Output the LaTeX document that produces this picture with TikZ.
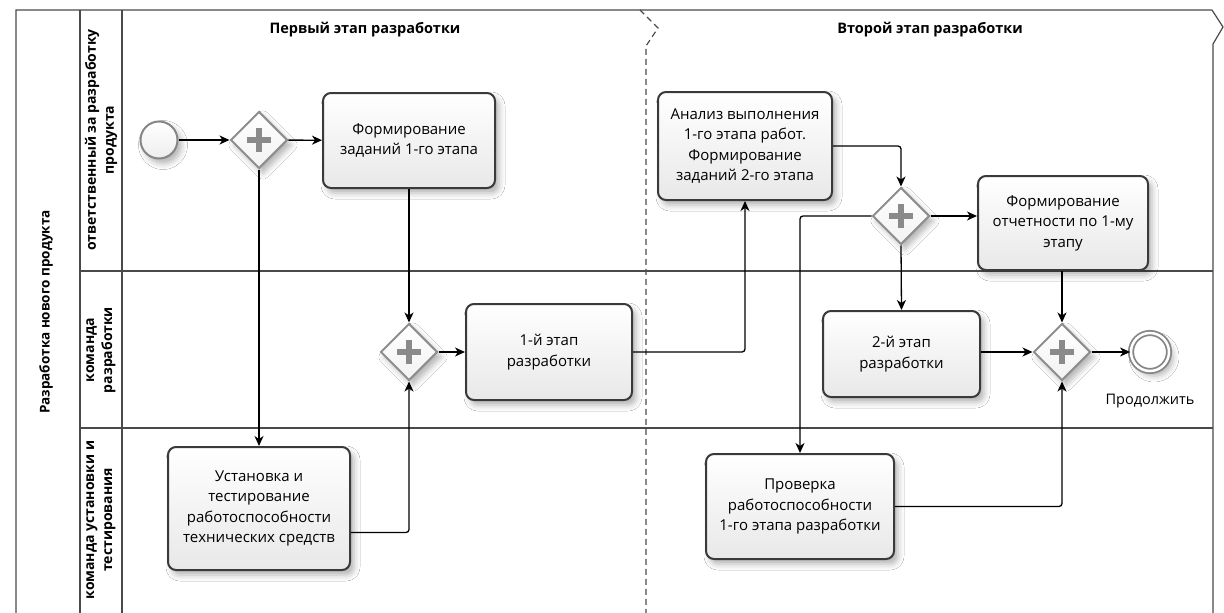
\documentclass[tikz,border=0pt]{standalone}
\usepackage{fontspec}
\setmainfont{Open Sans}
\usetikzlibrary{arrows.meta,shapes.geometric,shadows.blur}
\definecolor{frameline}{HTML}{4A4A4A}
\definecolor{taskline}{HTML}{3A3A3A}
\definecolor{gateline}{HTML}{8E8E8E}
\definecolor{plusgray}{HTML}{8A8A8A}
\definecolor{eventline}{HTML}{868686}
\begin{document}
\begin{tikzpicture}[x=1pt,y=-1pt,
  frame/.style={draw=frameline, line width=1.2pt},
  phaseline/.style={draw=frameline, line width=1.2pt, dash pattern=on 6pt off 4pt},
  softshadow/.style={blur shadow={shadow xshift=4pt, shadow yshift=-5pt,
      shadow blur radius=6pt, shadow opacity=30}},
  task/.style={rectangle, draw=taskline, line width=2pt, rounded corners=8pt,
      top color=white, bottom color=black!9, align=center, inner sep=0pt,
      font=\fontsize{15}{20.5}\selectfont, softshadow},
  plusline/.style={draw=plusgray, line width=6.5pt},
  gateway/.style={diamond, draw=gateline, line width=2pt, minimum width=57pt,
      minimum height=57pt, inner sep=0pt, top color=white, bottom color=black!5,
      softshadow,
      path picture={
        \draw[plusline] ([xshift=-12pt]path picture bounding box.center)
                     -- ([xshift=12pt]path picture bounding box.center);
        \draw[plusline] ([yshift=-12pt]path picture bounding box.center)
                     -- ([yshift=12pt]path picture bounding box.center);}},
  startev/.style={circle, draw=eventline, line width=2pt, minimum size=37pt,
      inner sep=0pt, top color=white, bottom color=black!7, softshadow},
  endev/.style={circle, draw=eventline, fill=white, line width=1.8pt, double=white,
      double distance=2.5pt, minimum size=38pt, inner sep=0pt, softshadow},
  flow/.style={draw=black, line width=1.3pt, rounded corners=3pt,
      -{Stealth[length=10pt,width=9pt,inset=3pt]}},
  lanelabel/.style={rotate=90, align=center, font=\bfseries\fontsize{14}{18}\selectfont},
  poollabel/.style={rotate=90, font=\bfseries\fontsize{13.5}{16}\selectfont},
  phasehead/.style={font=\bfseries\fontsize{14.5}{17}\selectfont},
  evlabel/.style={font=\fontsize{14.5}{17}\selectfont}
]
\useasboundingbox (0,0) rectangle (1224,613);
\fill[white] (0,0) rectangle (1224,613);

% pool, lanes and phase borders
\draw[frame] (16,613) -- (16,10) -- (1212,10) -- (1223,27) -- (1213,44) -- (1213,613);
\draw[frame] (80,10) -- (80,613);
\draw[frame] (122,10) -- (122,613);
\draw[frame] (80,271) -- (1213,271);
\draw[frame] (80,428) -- (1213,428);
\draw[phaseline] (640,10) -- (658,28) -- (646,46) -- (646,613);

% pool and lane titles
\node[poollabel] (pool) at (46,312) {Разработка нового продукта};
\node[lanelabel] (lane1) at (101,140) {ответственный за разработку\\продукта};
\node[lanelabel] (lane2) at (101,350) {команда\\разработки};
\node[lanelabel] (lane3) at (101,520) {команда установки и\\тестирования};

% phase titles
\node[phasehead] (ph1) at (365,30) {Первый этап разработки};
\node[phasehead] (ph2) at (930,30) {Второй этап разработки};

% events and gateways
\node[startev] (start) at (159,140) {};
\node[gateway] (g1) at (259,140) {};
\node[gateway] (g2) at (409,352) {};
\node[gateway] (g3) at (901,216) {};
\node[gateway] (g4) at (1062,352) {};
\node[endev] (stop) at (1150,352) {};
\node[evlabel] (stoplbl) at (1150,401) {Продолжить};

% tasks
\node[task, minimum width=172pt, minimum height=95pt] (t1) at (409,140.5)
  {Формирование\\заданий 1-го этапа};
\node[task, minimum width=166pt, minimum height=96pt] (t2) at (549,352)
  {1-й этап\\разработки};
\node[task, minimum width=182pt, minimum height=123pt] (t3) at (259,508.5)
  {Установка и\\тестирование\\работоспособности\\технических средств};
\node[task, minimum width=174pt, minimum height=108pt] (an) at (745,146)
  {Анализ выполнения\\1-го этапа работ.\\Формирование\\заданий 2-го этапа};
\node[task, minimum width=170pt, minimum height=94pt] (rep) at (1063,223)
  {Формирование\\отчетности по 1-му\\этапу};
\node[task, minimum width=157pt, minimum height=86pt] (t4) at (901.5,354)
  {2-й этап\\разработки};
\node[task, minimum width=188pt, minimum height=105pt] (prov) at (800,506.5)
  {Проверка\\работоспособности\\1-го этапа разработки};

% sequence flows
\draw[flow] (start) -- (g1);
\draw[flow] (g1) -- (t1);
\draw[flow] (g1.south) -- (t3.north);
\draw[flow] (t1.south) -- (g2.north);
\draw[flow] ([yshift=-24pt]t3.east) -| (g2.south);
\draw[flow] (g2) -- (t2);
\draw[flow] (t2.east) -| (an.south);
\draw[flow] (an.east) -| (g3.north);
\draw[flow] (g3.east) -- (g3.east -| rep.west);
\draw[flow] (g3.west) -| (prov.north);
\draw[flow] (g3.south) -- (t4.north);
\draw[flow] (g4.west -| t4.east) -- (g4.west);
\draw[flow] (rep.south -| g4.north) -- (g4.north);
\draw[flow] (prov.east) -| (g4.south);
\draw[flow] (g4.east) -- (stop.west);
\end{tikzpicture}
\end{document}
